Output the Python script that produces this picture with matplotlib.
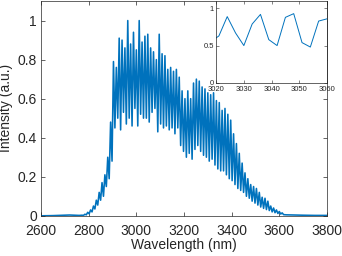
import numpy as np
import matplotlib
matplotlib.use("Agg")
import matplotlib.pyplot as plt

# spectrum: flat tails + fringe peaks/troughs
left_wl = [2600, 2650, 2700, 2720, 2740, 2760]
left_int = [0.0, 0.001, 0.003, 0.004, 0.003, 0.002]

# fringe maxima at 2772 + 12k nm, minima 6 nm later
peak_start = 2772
peak_step = 12
peak_int = [0.003, 0.008, 0.018, 0.03, 0.05, 0.08, 0.12, 0.17, 0.21, 0.30,
            0.48, 0.79, 0.76, 0.91, 0.90, 0.86, 1.0, 0.88, 0.94, 0.85,
            1.0, 0.89, 0.92, 0.93, 0.86, 0.84, 0.80, 0.93, 0.83, 0.82,
            0.75, 0.76, 0.74, 0.75, 0.71, 0.64, 0.60, 0.64, 0.60, 0.68,
            0.70, 0.69, 0.66, 0.65, 0.63, 0.62, 0.63, 0.59, 0.58, 0.54,
            0.55, 0.52, 0.49, 0.42, 0.37, 0.32, 0.27, 0.22, 0.19, 0.16,
            0.15, 0.14, 0.12, 0.095, 0.09, 0.075, 0.05, 0.04, 0.03, 0.022,
            0.015]
trough_int = [0.002, 0.005, 0.01, 0.02, 0.035, 0.055, 0.08, 0.10, 0.15, 0.19,
              0.28, 0.45, 0.50, 0.44, 0.53, 0.47, 0.50, 0.46, 0.55, 0.46,
              0.52, 0.50, 0.50, 0.48, 0.53, 0.55, 0.43, 0.47, 0.45, 0.46,
              0.44, 0.45, 0.42, 0.45, 0.36, 0.33, 0.30, 0.32, 0.29, 0.34,
              0.36, 0.33, 0.31, 0.30, 0.28, 0.29, 0.26, 0.24, 0.23, 0.23,
              0.21, 0.19, 0.18, 0.16, 0.14, 0.13, 0.12, 0.10, 0.09, 0.075,
              0.065, 0.055, 0.045, 0.038, 0.032, 0.027, 0.02, 0.016, 0.012, 0.009,
              0.006]

right_wl = [3630, 3660, 3700, 3750, 3800]
right_int = [0.005, 0.004, 0.003, 0.002, 0.002]

# zoomed detail shown in the inset
inset_wl = [3018, 3021, 3024, 3027, 3030, 3033, 3036, 3039, 3042, 3045, 3048, 3051, 3054, 3057, 3060, 3063]
inset_int = [0.55, 0.63, 0.89, 0.67, 0.50, 0.79, 0.92, 0.58, 0.50, 0.88, 0.93, 0.54, 0.48, 0.83, 0.86, 0.9]

x_ticks = [2600, 2800, 3000, 3200, 3400, 3600, 3800]
y_ticks = [0, 0.2, 0.4, 0.6, 0.8, 1]
y_labels = ["0", "0.2", "0.4", "0.6", "0.8", "1"]
inset_x_ticks = [3020, 3030, 3040, 3050, 3060]
inset_y_ticks = [0, 0.5, 1]
inset_y_labels = ["0", "0.5", "1"]

# interleave maxima and minima into one trace
k = np.arange(len(peak_int))
fringe_wl = np.empty(2 * len(k))
fringe_wl[0::2] = peak_start + peak_step * k
fringe_wl[1::2] = peak_start + peak_step * k + peak_step / 2
fringe_int = np.empty(2 * len(k))
fringe_int[0::2] = peak_int
fringe_int[1::2] = trough_int

wl = np.concatenate([left_wl, fringe_wl, right_wl])
intensity = np.concatenate([left_int, fringe_int, right_int])

plt.rcParams['font.family'] = ['Liberation Sans', 'DejaVu Sans']
line_col = "#0072BD"
ax_col = "#262626"

fig = plt.figure(figsize=(3.42, 2.56), dpi=100)
ax = fig.add_axes([0.12, 0.157, 0.836, 0.839])
ax.plot(wl, intensity, color=line_col, lw=1.15)
ax.set_xlim(2600, 3800)
ax.set_ylim(0, 1.1)
ax.set_xticks(x_ticks)
ax.set_yticks(y_ticks)
ax.set_yticklabels(y_labels)
ax.set_xlabel("Wavelength (nm)", fontsize=10, color=ax_col, labelpad=0)
ax.set_ylabel("Intensity (a.u.)", fontsize=10, color=ax_col, labelpad=3)
ax.tick_params(direction="in", top=True, right=True, labelsize=10,
               colors=ax_col, length=3, width=0.5)
ax.tick_params(axis="x", pad=6)
ax.tick_params(axis="y", pad=3)
for s in ax.spines.values():
    s.set_linewidth(0.5)
    s.set_color(ax_col)

ins = fig.add_axes([0.632, 0.677, 0.324, 0.319])
ins.plot(inset_wl, inset_int, color=line_col, lw=0.7)
ins.set_xlim(3020, 3060)
ins.set_ylim(0, 1.1)
ins.set_xticks(inset_x_ticks)
ins.set_yticks(inset_y_ticks)
ins.set_yticklabels(inset_y_labels)
ins.tick_params(direction="in", top=True, right=True, labelsize=5.5,
                colors=ax_col, length=2, width=0.4)
ins.tick_params(axis="x", pad=2.5)
ins.tick_params(axis="y", pad=1.5)
for s in ins.spines.values():
    s.set_linewidth(0.5)
    s.set_color(ax_col)

plt.savefig("out.png", dpi=100)
plt.close()
